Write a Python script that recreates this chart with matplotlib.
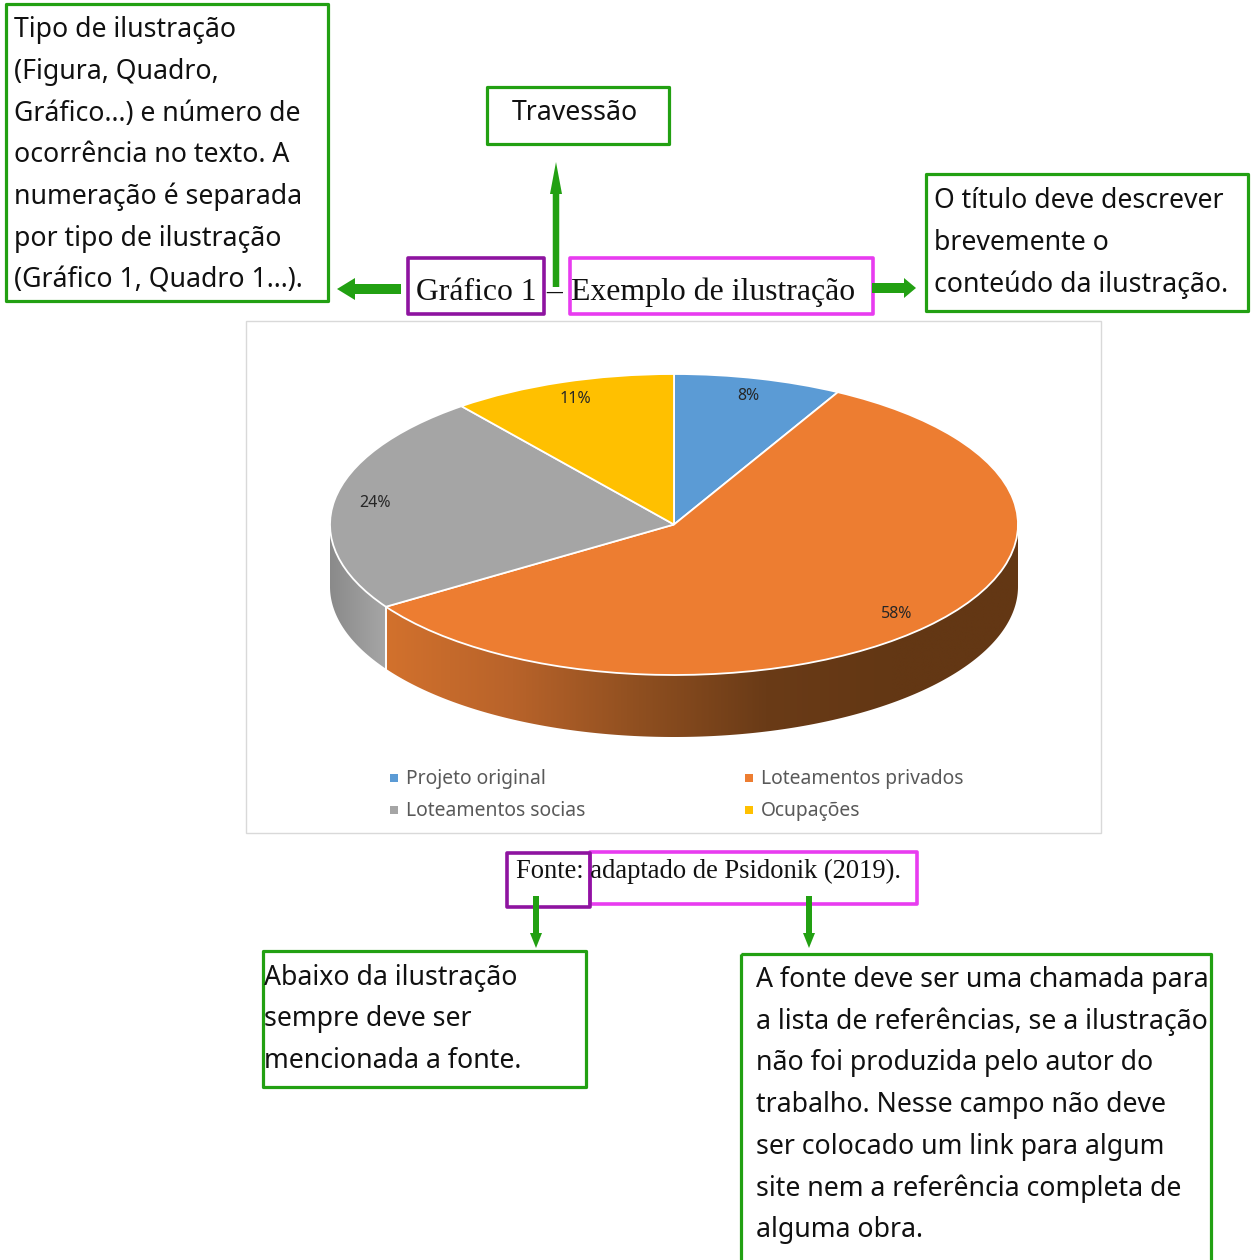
import numpy as np
import matplotlib
matplotlib.use("Agg")
import matplotlib.pyplot as plt
from matplotlib.patches import Rectangle, FancyArrow, Polygon
from matplotlib.colors import LinearSegmentedColormap

# pie data (clockwise from 12 o'clock)
categories = ["Projeto original", "Loteamentos privados", "Loteamentos socias", "Ocupações"]
shares = [7.9, 57.9, 23.6, 10.6]
slice_colors = ["#5b9bd5", "#ed7d31", "#a5a5a5", "#ffc000"]
# side-wall gradients (left -> right) for the 3D look
side_grads = {
    1: ["#d2712d", "#b8632a", "#8f4f20", "#6a3b17", "#633714", "#633714"],
    2: ["#8a8a8a", "#a6a6a6"],
}

# annotation texts
note_topleft = ["Tipo de ilustração", "(Figura, Quadro,", "Gráfico...) e número de",
                "ocorrência no texto. A", "numeração é separada", "por tipo de ilustração",
                "(Gráfico 1, Quadro 1...)."]
note_right = ["O título deve descrever", "brevemente o", "conteúdo da ilustração."]
note_dash = "Travessão"
note_botleft = ["Abaixo da ilustração", "sempre deve ser", "mencionada a fonte."]
note_botright = ["A fonte deve ser uma chamada para", "a lista de referências, se a ilustração",
                 "não foi produzida pelo autor do", "trabalho. Nesse campo não deve",
                 "ser colocado um link para algum", "site nem a referência completa de",
                 "alguma obra."]
title_kind = "Gráfico 1"
title_text = "Exemplo de ilustração"
source_text = "Fonte: adaptado de Psidonik (2019)."

GREEN = "#22a012"
PURPLE = "#8e14a0"
MAGENTA = "#e83cf0"
SANS = "Noto Sans"
SERIF = "Liberation Serif"
W, H = 1252, 1260

fig = plt.figure(figsize=(W / 100, H / 100), dpi=100)
ax = fig.add_axes([0, 0, 1, 1])
ax.set_xlim(0, W)
ax.set_ylim(H, 0)
ax.axis("off")


def box(x0, y0, x1, y1, color, lw=2.3):
    ax.add_patch(Rectangle((x0, y0), x1 - x0, y1 - y0, fill=False, edgecolor=color,
                           linewidth=lw, joinstyle="round", zorder=3))


def lines_at(x, baseline, lines, step=41.8, size=19.2):
    for i, s in enumerate(lines):
        ax.text(x, baseline + i * step, s, fontsize=size, family=SANS, va="baseline",
                ha="left", color="#111111", zorder=4)


def arrow(x, y, dx, dy, width, hw, hl):
    ax.add_patch(FancyArrow(x, y, dx, dy, width=width, head_width=hw, head_length=hl,
                            length_includes_head=True, color=GREEN, linewidth=0, zorder=3))


# annotation boxes
box(6, 4, 328, 301, GREEN)
lines_at(14, 37, note_topleft)
box(487, 87, 669, 144, GREEN)
ax.text(512, 119.5, note_dash, fontsize=19.2, family=SANS, va="baseline", color="#111111")
box(926, 174, 1248, 311, GREEN)
lines_at(934, 208, note_right)
box(263, 951, 586, 1087, GREEN)
lines_at(264, 984.5, note_botleft)
box(741, 954, 1211, 1290, GREEN)
lines_at(756, 986.7, note_botright)

# title row
box(408, 258, 544, 314, PURPLE, lw=2.6)
box(570, 258, 873, 314, MAGENTA, lw=2.6)
ax.text(416, 300, title_kind, fontsize=22.8, family=SERIF, va="baseline", color="#111111")
ax.text(546, 300, "–", fontsize=22.8, family=SERIF, va="baseline", color="#111111")
ax.text(571, 300, title_text, fontsize=22.9, family=SERIF, va="baseline", color="#111111", zorder=4)

# source row
box(590, 852, 917, 904, MAGENTA, lw=2.6)
box(507, 853, 590, 907, PURPLE, lw=2.6)
ax.text(516, 878.5, source_text, fontsize=19.1, family=SERIF, va="baseline", color="#111111", zorder=4)

# arrows
arrow(401, 289, -64, 0, 10, 22, 18)
arrow(556, 287, 0, -125, 6.5, 12, 32)
arrow(872, 288, 44, 0, 10, 20, 12)
arrow(536, 896, 0, 52, 6, 12, 15)
arrow(809, 896, 0, 52, 6, 12, 15)

# chart frame
ax.add_patch(Rectangle((246, 321), 855, 512, fill=False, edgecolor="#d9d9d9", linewidth=1.0))

# legend (two columns, row-major like the source chart)
leg_pos = [(390, 779), (745, 779), (390, 811), (745, 811)]
for (lx, ly), name, col in zip(leg_pos, categories, slice_colors):
    ax.add_patch(Rectangle((lx, ly - 5), 8, 8, facecolor=col, edgecolor="none"))
    ax.text(lx + 16, ly, name, fontsize=13.9, family=SANS, va="center", ha="left", color="#595959")

# 3D-ish pie: top face is a standard pie drawn in a squashed axes
depth = 62 / 150.5
px0, px1, py_top, py_bot = 330, 1018, 374, 737
pax = fig.add_axes([px0 / W, (H - py_bot) / H, (px1 - px0) / W, (py_bot - py_top) / H])
wedges, _, autotexts = pax.pie(
    shares, colors=slice_colors, startangle=90, counterclock=False,
    autopct=lambda p: f"{p:.0f}%", pctdistance=0.88,
    wedgeprops=dict(edgecolor="white", linewidth=1.3),
    textprops=dict(fontsize=11.5, family=SANS, color="#262626"),
)
for w in wedges:
    w.set_zorder(3)
for t in autotexts:
    t.set_zorder(5)

for i, w in enumerate(wedges):
    t = np.radians(np.linspace(w.theta1, w.theta2, 400))
    t = t[np.sin(t) <= 1e-9]
    if t.size < 2:
        continue
    xs, ys = np.cos(t), np.sin(t)
    poly = np.vstack([np.column_stack([xs, ys]), np.column_stack([xs[::-1], ys[::-1] - depth])])
    clip = Polygon(poly, closed=True, facecolor="none", edgecolor="none")
    pax.add_patch(clip)
    cmap = LinearSegmentedColormap.from_list(f"side{i}", side_grads.get(i, [slice_colors[i]] * 2))
    x_lo, x_hi = xs.min(), xs.max()
    grad = np.linspace(0, 1, 256).reshape(1, -1)
    im = pax.imshow(grad, extent=(x_lo, x_hi, -1 - depth, 0.05), cmap=cmap, aspect="auto",
                    zorder=1, interpolation="bilinear")
    im.set_clip_path(clip)
    # white seam at visible slice boundaries
    for a in (w.theta1, w.theta2):
        r = np.radians(a)
        if np.sin(r) < -1e-6:
            pax.plot([np.cos(r)] * 2, [np.sin(r), np.sin(r) - depth], color="white", lw=1.2, zorder=2)

pax.set_aspect("auto")
pax.set_xlim(-1, 1)
pax.set_ylim(-1 - depth, 1)
pax.axis("off")

fig.savefig("out.png", dpi=100)
